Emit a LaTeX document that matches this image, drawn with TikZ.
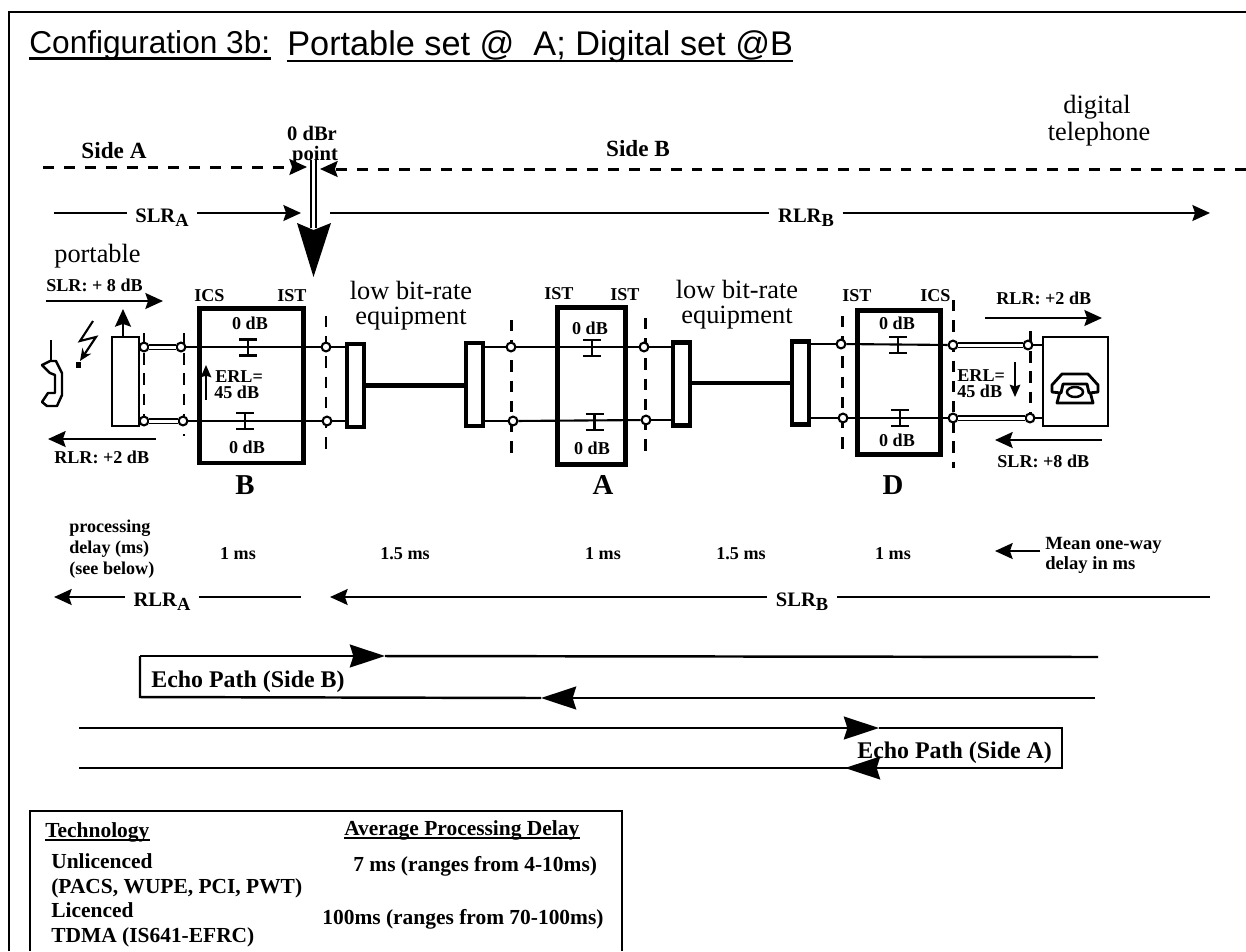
\documentclass[tikz,border=0pt]{standalone}
\usepackage{fontspec}
\usepackage{tikz}
\setmainfont{Liberation Serif}
\newfontfamily\titlefont{Liberation Sans}
\usetikzlibrary{arrows.meta,positioning}
\newcommand{\lrsub}[2]{#1\raisebox{-2.6pt}{\fontsize{10.5}{12}\selectfont #2}}
\tikzset{
  txt/.style={inner sep=0pt, anchor=base},
  lbl/.style={txt, font=\fontsize{10.3}{12}\selectfont\bfseries},
  lblb/.style={txt, font=\fontsize{11.7}{13}\selectfont\bfseries, outer xsep=5pt},
  plain/.style={txt, font=\fontsize{15}{14.2}\selectfont},
  sidelbl/.style={txt, font=\fontsize{13.2}{15}\selectfont\bfseries},
  echolbl/.style={txt, anchor=base west, font=\fontsize{13.6}{15}\selectfont\bfseries},
  tbl/.style={txt, anchor=base west, font=\fontsize{12.2}{14}\selectfont\bfseries},
  sitelbl/.style={inner sep=0pt, outer sep=0pt, font=\fontsize{16.4}{18}\selectfont\bfseries},
  gainbox/.style={draw, line width=2.8pt, inner sep=0pt, outer sep=0pt},
  lbrbox/.style={draw, fill=white, line width=2.3pt, inner sep=0pt, outer sep=0pt, minimum width=0.34cm, minimum height=1.66cm},
  setbox/.style={draw, fill=white, line width=1.2pt, inner sep=0pt, outer sep=0pt},
  tap/.style={draw, circle, fill=white, line width=1.2pt, inner sep=0pt, minimum size=5pt},
  wire/.style={line width=1.2pt},
  subline/.style={line width=0.9pt, double, double distance=1.7pt},
  trunk/.style={line width=2.8pt},
  fence/.style={line width=1.7pt, dash pattern=on 6.5pt off 5pt},
  sideline/.style={line width=1.7pt, dash pattern=on 6.2pt off 5.7pt},
  flow/.style={line width=1.4pt, -{Stealth[length=10pt, width=9pt, inset=1.5pt]}},
  flowline/.style={line width=1.4pt},
  erlflow/.style={line width=1.1pt, -{Stealth[length=7pt, width=6pt, inset=1pt]}},
  echoflow/.style={line width=1.4pt, -{Stealth[length=20pt, width=13pt, inset=2pt]}},
}
\begin{document}
\begin{tikzpicture}[x=0.02cm, y=-0.02cm]
\useasboundingbox (0,0) rectangle (1246,951);
% outer frame and table frame
\draw[line width=1.4pt] (9,951) -- (9,12) -- (1246,12);
\draw[line width=1.4pt] (30,951) -- (30,811) -- (622,811) -- (622,951);

% title
\node (cfg) [txt, anchor=base west, font=\fontsize{18}{20}\selectfont\titlefont] at (29,53) {Configuration 3b:};
\node (sets) [txt, anchor=base west, font=\fontsize{19.5}{20}\selectfont\titlefont] at (287,55) {Portable set @\ \ A; Digital set @B};
\draw[line width=1.5pt] ([yshift=-3.1pt]cfg.base west) -- ([yshift=-3.1pt]cfg.base east);
\draw[line width=1.5pt] ([yshift=-3.4pt]sets.base west) -- ([yshift=-3.4pt]sets.base east);

% side labels
\node (sideA) [sidelbl] at (114,158) {Side A};
\node (sideB) [sidelbl] at (638,156) {Side B};
\node (dbr) [lblb, outer xsep=0pt] at (312,140) {0 dBr};
\node (pnt) [lblb, outer xsep=0pt] at (315,160) {point};
\node (dig) [plain] at (1097,113) {digital};
\node (tel) [plain] at (1099,140) {telephone};
\node (port) [plain] at (97.5,262) {portable};

\coordinate (sAa) at (43,167);
\coordinate (sAm) at (295,167);
\coordinate (sAb) at (307,167);
\coordinate (sBa) at (1246,169);
\coordinate (sBm) at (332,169);
\coordinate (sBb) at (320,169);
\draw[sideline] (sAa) -- (sAm);
\draw[sideline] (sBa) -- (sBm);
\draw[flow] (sAm) -- (sAb);
\draw[flow] (sBm) -- (sBb);

% 0 dBr marker
\coordinate (zpa) at (313.5,160);
\coordinate (zpb) at (313.5,277);
\draw[line width=1.3pt, double, double distance=1.8pt, shorten >=28pt] (zpa) -- (zpb);
\fill (zpb) -- (331,223) -- (313.5,230) -- (297,223) -- cycle;

% loudness rating lines
\coordinate (slrAa) at (54,213);
\coordinate (slrAb) at (301,213);
\node (slrA) [lblb] at (162,222) {\lrsub{SLR}{A}};
\draw[flowline] (slrAa) -- (slrA.west |- slrAa);
\draw[flow] (slrA.east |- slrAa) -- (slrAb);
\coordinate (rlrBa) at (330,213);
\coordinate (rlrBb) at (1210,213);
\node (rlrB) [lblb] at (806,222) {\lrsub{RLR}{B}};
\draw[flowline] (rlrBa) -- (rlrB.west |- rlrBa);
\draw[flow] (rlrB.east |- rlrBa) -- (rlrBb);
\coordinate (rlrAa) at (301,597);
\coordinate (rlrAb) at (54,597);
\node (rlrA) [lblb] at (162,606) {\lrsub{RLR}{A}};
\draw[flowline] (rlrAa) -- (rlrA.east |- rlrAa);
\draw[flow] (rlrA.west |- rlrAa) -- (rlrAb);
\coordinate (slrBa) at (1210,597);
\coordinate (slrBb) at (330,597);
\node (slrB) [lblb] at (802,606) {\lrsub{SLR}{B}};
\draw[flowline] (slrBa) -- (slrB.east |- slrBa);
\draw[flow] (slrB.west |- slrBa) -- (slrBb);

% reference point fences
\foreach \x/\ya/\yb in {144/333/430, 184/333/436, 326/316/452, 511/320/456, 645/318/452, 842/316/452, 953/300/468, 1030/331/424}
  \draw[fence] (\x,\ya) -- (\x,\yb);

% boxes
\node (boxB) [gainbox, minimum width=2.08cm, minimum height=3.09cm] at (251.5,385.75) {};
\node (boxA) [gainbox, minimum width=1.36cm, minimum height=3.14cm] at (591.5,386) {};
\node (boxD) [gainbox, minimum width=1.66cm, minimum height=2.88cm] at (899,382.5) {};
\node (lbr1) [lbrbox] at (355.5,385.5) {};
\node (lbr2) [lbrbox] at (474.5,384.5) {};
\node (lbr3) [lbrbox] at (681.5,384) {};
\node (lbr4) [lbrbox] at (800.5,383) {};
\node (pset) [setbox, minimum width=0.54cm, minimum height=1.78cm] at (125.5,381.5) {};
\node (dset) [setbox, minimum width=1.30cm, minimum height=1.78cm] at (1075.5,381.5) {};

% tap points
\node (tP1) [tap] at (144,347) {};
\node (tB1) [tap] at (181,347) {};
\node (tC1) [tap] at (326,347) {};
\node (tP2) [tap] at (144,421) {};
\node (tB2) [tap] at (183,421) {};
\node (tC2) [tap] at (327,421) {};
\node (tE1) [tap] at (511,347) {};
\node (tF1) [tap] at (644,347) {};
\node (tE2) [tap] at (513,421) {};
\node (tF2) [tap] at (646,420) {};
\node (tG1) [tap] at (841,344) {};
\node (tH1) [tap] at (953,345) {};
\node (tJ1) [tap] at (1028,345) {};
\node (tG2) [tap] at (843,418) {};
\node (tH2) [tap] at (953,418) {};
\node (tJ2) [tap] at (1030,418) {};

% wires
\draw[subline] (tP1) -- (tB1);
\draw[subline] (tP2) -- (tB2);
\draw[subline] (tH1) -- (tJ1);
\draw[subline] (tH2) -- (tJ2);
\draw[wire] (pset.east |- tP1) -- (tP1);
\draw[wire] (pset.east |- tP2) -- (tP2);
\draw[wire] (tB1) -- (tC1);
\draw[wire] (tB2) -- (tC2);
\draw[wire] (tC1) -- (lbr1.west |- tC1);
\draw[wire] (tC2) -- (lbr1.west |- tC2);
\draw[wire] (lbr2.east |- tE1) -- (tE1);
\draw[wire] (lbr2.east |- tE2) -- (tE2);
\draw[wire] (tE1) -- (tF1);
\draw[wire] (tE2) -- (tF2);
\draw[wire] (tF1) -- (lbr3.west |- tF1);
\draw[wire] (tF2) -- (lbr3.west |- tF2);
\draw[wire] (lbr4.east |- tG1) -- (tG1);
\draw[wire] (lbr4.east |- tG2) -- (tG2);
\draw[wire] (tG1) -- (tH1);
\draw[wire] (tG2) -- (tH2);
\draw[wire] (tJ1) -- (dset.west |- tJ1);
\draw[wire] (tJ2) -- (dset.west |- tJ2);
\draw[trunk] (lbr1.east) -- (lbr2.west |- lbr1.east);
\draw[trunk] (lbr3.east |- lbr4.west) -- (lbr4.west);

% pads on the wires
\foreach \x/\y in {248/347.5, 245/421, 592/348, 594.5/422, 898/345, 900/418}
  \draw[wire] (\x-9,\y-8) -- (\x+9,\y-8) (\x,\y-8) -- (\x,\y+8) (\x-9,\y+8) -- (\x+9,\y+8);

% labels on the boxes
\node (icsB) [lbl, anchor=base west] at (194,301) {ICS};
\node (istB) [lbl, anchor=base west] at (277,301) {IST};
\node (istE) [lbl, anchor=base west] at (544,299) {IST};
\node (istF) [lbl, anchor=base west] at (610,300) {IST};
\node (istG) [lbl, anchor=base west] at (842,301) {IST};
\node (icsH) [lbl, anchor=base west] at (920,301) {ICS};
\node (gB1) [lbl] at (250,329) {0 dB};
\node (gB2) [lbl] at (247,453) {0 dB};
\node (gA1) [lbl] at (590,334) {0 dB};
\node (gA2) [lbl] at (592,454) {0 dB};
\node (gD1) [lbl] at (897,329) {0 dB};
\node (gD2) [lbl] at (897,446) {0 dB};
\node (siteB) [sitelbl, below=0.26cm of boxB, xshift=-0.13cm] {B};
\node (siteA) [sitelbl, below=0.22cm of boxA, xshift=0.23cm] {A};
\node (siteD) [sitelbl, below=0.42cm of boxD, xshift=-0.12cm] {D};
\node (lowA) [plain] at (411,299) {low bit-rate};
\node (eqA) [plain] at (411,324) {equipment};
\node (lowB) [plain] at (737,298) {low bit-rate};
\node (eqB) [plain] at (737,323) {equipment};

% echo return loss
\node (erlB1) [lbl, anchor=base west] at (215,382) {ERL=};
\node (erlB2) [lbl, anchor=base west] at (214,398) {45 dB};
\node (erlD1) [lbl, anchor=base west] at (957,381) {ERL=};
\node (erlD2) [lbl, anchor=base west] at (957,397) {45 dB};
\coordinate (eBa) at (206,400);
\coordinate (eBb) at (206,365);
\coordinate (eDa) at (1015,362);
\coordinate (eDb) at (1015,397);
\draw[erlflow] (eBa) -- (eBb);
\draw[erlflow] (eDa) -- (eDb);

% ratings at the sets
\node (slrP) [lbl, anchor=base west] at (46,291) {SLR: + 8 dB};
\node (rlrP) [lbl, anchor=base west] at (54,463) {RLR: +2 dB};
\node (rlrD) [lbl, anchor=base west] at (996,304) {RLR: +2 dB};
\node (slrD) [lbl, anchor=base west] at (997,467) {SLR: +8 dB};
\coordinate (aPa) at (46,301);
\coordinate (aPb) at (163,301);
\coordinate (bPa) at (156,439);
\coordinate (bPb) at (48,439);
\coordinate (aDa) at (985,318);
\coordinate (aDb) at (1102,318);
\coordinate (bDa) at (1102,440);
\coordinate (bDb) at (995,440);
\coordinate (pant) at (123,309);
\draw[flow] (aPa) -- (aPb);
\draw[flow] (bPa) -- (bPb);
\draw[flow] (aDa) -- (aDb);
\draw[flow] (bDa) -- (bDb);
\draw[flow] (pant |- pset.north) -- (pant);

% radio link and handset
\draw[wire] (51,340) -- (51,361);
\draw[line width=1.4pt, line join=round] (42,365) -- (50,361) -- (56,361) -- (62,373) -- (62,395) -- (57,406) -- (47,406) -- (42,402) -- (48,393) -- (55,393) -- (55,375) -- (50,373) -- cycle;
\draw[line width=1.2pt, -{Stealth[length=7pt, width=6pt]}] (93,321) -- (80,341) -- (96,337) -- (80,361);
\fill (75.5,362) rectangle (81,368);

% telephone icon
\draw[line width=1.6pt, line join=round] (1063,380) -- (1087,380) -- (1093,403) -- (1057,403) -- cycle;
\draw[line width=1.4pt, fill=white] (1075,392) ellipse (8 and 5);
\draw[line width=1.6pt, fill=white, line join=round] (1052,385) -- (1062,374) -- (1088,374) -- (1098,385) -- (1098,392) -- (1089,393) -- (1087,384) -- (1063,384) -- (1061,393) -- (1052,392) -- cycle;

% delays
\node (proc1) [lbl, anchor=base west] at (69,532) {processing};
\node (proc2) [lbl, anchor=base west] at (69,553) {delay (ms)};
\node (proc3) [lbl, anchor=base west] at (69,574) {(see below)};
\foreach \x/\n/\t in {238/d1/1 ms, 405/d2/1.5 ms, 603/d3/1 ms, 741/d4/1.5 ms, 893/d5/1 ms}
  \node (\n) [lbl] at (\x,559) {\t};
\node (mean1) [lbl, anchor=base west, font=\fontsize{10.6}{12}\selectfont\bfseries] at (1045,549) {Mean one-way};
\node (mean2) [lbl, anchor=base west, font=\fontsize{10.6}{12}\selectfont\bfseries] at (1045,569) {delay in ms};
\coordinate (mna) at (1040,551);
\coordinate (mnb) at (995,551);
\draw[flow] (mna) -- (mnb);

% echo paths
\coordinate (ebA) at (1098,657);
\coordinate (ebB) at (140,656);
\coordinate (ebC) at (140,697);
\coordinate (ebD) at (1095,698);
\coordinate (ebT) at (385,656);
\coordinate (ebU) at (541,698);
\draw[flowline] (ebT) -- (ebA);
\draw[echoflow] (ebB) -- (ebT);
\draw[flowline] (ebB) -- (ebC) -- (ebU);
\draw[echoflow] (ebD) -- (ebU);
\node (ebL) [echolbl] at (151,687) {Echo Path (Side B)};
\coordinate (eaA) at (79,728);
\coordinate (eaB) at (1062,728);
\coordinate (eaC) at (1062,768);
\coordinate (eaD) at (79,768);
\coordinate (eaT) at (879,728);
\coordinate (eaU) at (845,768);
\draw[echoflow] (eaA) -- (eaT);
\draw[flowline] (eaT) -- (eaB) -- (eaC) -- (eaD);
\draw[echoflow] (eaC) -- (eaU);
\node (eaL) [echolbl] at (857,758) {Echo Path (Side A)};

% processing delay table
\node (thT) [tbl] at (45,837) {Technology};
\node (thD) [tbl] at (344,835) {Average Processing Delay};
\draw[line width=0.9pt] ([yshift=-1.8pt]thT.base west) -- ([yshift=-1.8pt]thT.base east);
\draw[line width=0.9pt] ([yshift=-1.8pt]thD.base west) -- ([yshift=-1.8pt]thD.base east);
\node (tU) [tbl] at (51,868) {Unlicenced};
\node (tP) [tbl] at (51,893) {(PACS, WUPE, PCI, PWT)};
\node (tL) [tbl] at (51,917) {Licenced};
\node (tT) [tbl] at (51,942) {TDMA (IS641-EFRC)};
\node (dU) [tbl] at (353,871) {7 ms (ranges from 4-10ms)};
\node (dL) [tbl] at (322,924) {100ms (ranges from 70-100ms)};
\end{tikzpicture}
\end{document}
